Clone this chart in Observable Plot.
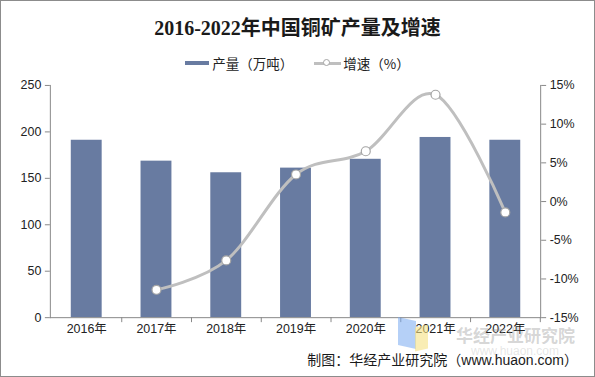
<!DOCTYPE html>
<html>
<head>
<meta charset="utf-8">
<script src="https://cdn.jsdelivr.net/npm/d3@7"></script>
<script src="https://cdn.jsdelivr.net/npm/@observablehq/plot@0.6"></script>
<style>
  html, body { margin: 0; padding: 0; background: #fff; }
  #wrap { position: relative; width: 595px; height: 377px; box-sizing: border-box; border: 1px solid #8c8c8c; overflow: hidden; font-family: "Noto Sans CJK SC", sans-serif; }
  #title { position: absolute; left: 0; top: 15px; width: 100%; text-align: center; font-size: 20px; line-height: 24px; font-weight: bold; color: #1a1a1a; font-family: "Liberation Serif", "Noto Sans CJK SC", serif; }
  #legend { position: absolute; left: 0; top: 52px; width: 100%; height: 20px; display: flex; justify-content: center; align-items: center; font-size: 13.5px; color: #222; }
  .item { display: flex; align-items: center; }
  .sw-bar { width: 24px; height: 4px; background: #687ba1; margin-right: 3px; }
  .sw-line { position: relative; width: 27px; height: 3px; background: #bfbfbf; margin-right: 2px; }
  .sw-line::after { content: ""; position: absolute; left: 9px; top: -3px; width: 7px; height: 7px; box-sizing: border-box; border-radius: 50%; background: #fff; border: 1px solid #a5a5a5; }
  #chart { position: absolute; left: 0; top: 70px; }
  #wm { position: absolute; left: 455px; top: 321px; font-size: 17px; font-weight: bold; color: rgba(150,150,150,0.4); }
  #wm2 { position: absolute; left: 470px; top: 343px; font-size: 12px; color: rgba(170,170,170,0.3); font-family: "Liberation Sans", sans-serif; }
  .logo-b { position: absolute; left: 397px; top: 318px; width: 18px; height: 28px; background: rgba(120,170,240,0.55); transform: skewY(12deg); }
  .logo-y { position: absolute; left: 414px; top: 325px; width: 13px; height: 24px; background: rgba(245,225,130,0.6); transform: skewY(-12deg); }
  #caption { position: absolute; right: 16px; top: 348px; font-size: 14px; line-height: 20px; color: #1a1a1a; }
  #caption .en { font-family: "Liberation Sans", sans-serif; }
</style>
</head>
<body>
<div id="wrap">
  <div id="title">2016-2022年中国铜矿产量及增速</div>
  <div id="legend">
    <div class="item"><div class="sw-bar"></div><span>产量（万吨）</span></div>
    <div class="item" style="margin-left:21px"><div class="sw-line"></div><span>增速（%）</span></div>
  </div>
  <div id="chart"></div>
  <div class="logo-b"></div><div class="logo-y"></div>
  <div id="wm">华经产业研究院</div>
  <div id="wm2">www.huaon.com</div>
  <div id="caption">制图：华经产业研究院（<span class="en">www.huaon.com</span>）</div>
</div>
<script>
// ---- data ----
const years = ["2016年", "2017年", "2018年", "2019年", "2020年", "2021年", "2022年"];
const output = [191, 168.5, 156, 161, 170.5, 194, 191];       // 产量（万吨）
const growth = [null, -11.4, -7.6, 3.5, 6.5, 13.8, -1.4];      // 增速（%）
const leftTicks = [0, 50, 100, 150, 200, 250];
const rightTicks = [-15, -10, -5, 0, 5, 10, 15];

// ---- build tables ----
const bars = years.map((y, i) => ({year: y, value: output[i]}));
const pts = years.map((y, i) => ({year: y, g: growth[i]})).filter(d => d.g != null);

const yMax = 250, gMin = -15, gMax = 15;
const g2y = g => (g - gMin) / (gMax - gMin) * yMax;
const y2g = v => v / yMax * (gMax - gMin) + gMin;

const W = 595, H = 275, mL = 49, mR = 54, mT = 14, mB = 28;
const step = (W - mL - mR) / years.length;
const axisColor = "#898989";

const chart = Plot.plot({
  width: W, height: H,
  marginLeft: mL, marginRight: mR, marginTop: mT, marginBottom: mB,
  style: {fontFamily: "'Liberation Sans', Arial, 'Noto Sans CJK SC', sans-serif", fontSize: "12.5px", color: "#222", background: "transparent"},
  x: {domain: years, paddingInner: 0.56, paddingOuter: 0.28, axis: null},
  y: {domain: [0, yMax], axis: null},
  marks: [
    Plot.barY(bars, {x: "year", y: "value", fill: "#687ba1"}),
    Plot.frame({anchor: "left", stroke: axisColor}),
    Plot.frame({anchor: "right", stroke: axisColor}),
    Plot.frame({anchor: "bottom", stroke: axisColor}),
    Plot.axisY({ticks: leftTicks, label: null, tickSize: 5, tickPadding: 4, stroke: axisColor, fill: "#222"}),
    Plot.axisY({anchor: "right", label: null, ticks: rightTicks.map(g2y), tickFormat: v => Math.round(y2g(v)) + "%", tickSize: 5, tickPadding: 4, stroke: axisColor, fill: "#222"}),
    Plot.axisX({label: null, tickSize: 0, tickPadding: 7, fill: "#222"}),
    Plot.axisX({label: null, tickSize: 5, text: null, dx: step / 2, stroke: axisColor}),
    Plot.line(pts, {x: "year", y: d => g2y(d.g), curve: "cardinal", tension: 0, stroke: "#bfbfbf", strokeWidth: 3}),
    Plot.dot(pts, {x: "year", y: d => g2y(d.g), r: 4.5, fill: "#fff", stroke: "#a5a5a5", strokeWidth: 1.2})
  ]
});
document.getElementById("chart").appendChild(chart);
</script>
</body>
</html>
